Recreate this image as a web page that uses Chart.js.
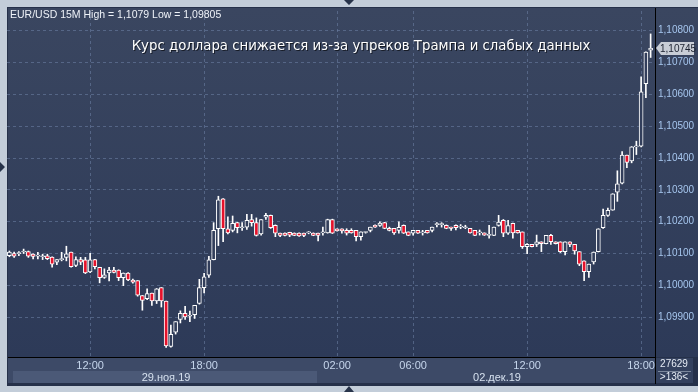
<!DOCTYPE html>
<html>
<head>
<meta charset="utf-8">
<script src="https://cdn.jsdelivr.net/npm/chart.js@4/dist/chart.umd.min.js"></script>
<style>
  html, body { margin: 0; padding: 0; background: #c3cdd9; }
  canvas { display: block; }
</style>
</head>
<body>
<canvas id="chart" width="698" height="392"></canvas>
<script>
// EUR/USD 15M candles
const open = [1.10093,1.10100,1.10100,1.10105,1.10106,1.10098,1.10092,1.10090,1.10093,1.10089,
  1.10073,1.10081,1.10088,1.10105,1.10063,1.10081,1.10080,1.10042,1.10081,1.10057,
  1.10025,1.10039,1.10048,1.10048,1.10024,1.10039,1.10017,1.10015,1.09968,1.09958,
  1.09976,1.09951,1.09993,1.09951,1.09808,1.09853,1.09893,1.09912,1.09903,1.09908,
  1.09943,1.09993,1.10032,1.10081,1.10178,1.10272,1.10178,1.10173,1.10197,1.10181,
  1.10183,1.10207,1.10197,1.10162,1.10214,1.10220,1.10189,1.10164,1.10164,1.10167,
  1.10164,1.10164,1.10164,1.10165,1.10164,1.10164,1.10165,1.10165,1.10207,1.10178,
  1.10178,1.10173,1.10173,1.10173,1.10153,1.10166,1.10173,1.10189,1.10188,1.10197,
  1.10179,1.10179,1.10173,1.10189,1.10168,1.10164,1.10173,1.10165,1.10173,1.10173,
  1.10191,1.10191,1.10189,1.10183,1.10189,1.10183,1.10181,1.10179,1.10173,1.10165,
  1.10165,1.10157,1.10157,1.10188,1.10204,1.10164,1.10195,1.10173,1.10168,1.10122,
  1.10129,1.10129,1.10137,1.10131,1.10157,1.10137,1.10137,1.10106,1.10137,1.10129,
  1.10106,1.10077,1.10043,1.10074,1.10106,1.10181,1.10220,1.10236,1.10293,1.10321,
  1.10409,1.10391,1.10435,1.10437,1.10634,1.10739];
const high = [1.10108,1.10105,1.10106,1.10114,1.10108,1.10099,1.10104,1.10098,1.10098,1.10090,
  1.10081,1.10104,1.10123,1.10105,1.10090,1.10088,1.10088,1.10101,1.10082,1.10057,
  1.10052,1.10057,1.10057,1.10049,1.10039,1.10040,1.10020,1.10015,1.09968,1.09989,
  1.09976,1.09990,1.09993,1.09951,1.09875,1.09886,1.09920,1.09934,1.09919,1.09937,
  1.10019,1.10038,1.10091,1.10197,1.10280,1.10273,1.10215,1.10218,1.10198,1.10197,
  1.10223,1.10223,1.10212,1.10207,1.10226,1.10221,1.10190,1.10164,1.10165,1.10167,
  1.10165,1.10165,1.10164,1.10169,1.10165,1.10164,1.10183,1.10208,1.10208,1.10178,
  1.10178,1.10178,1.10178,1.10173,1.10168,1.10168,1.10183,1.10190,1.10200,1.10198,
  1.10183,1.10179,1.10200,1.10190,1.10168,1.10173,1.10173,1.10173,1.10173,1.10183,
  1.10197,1.10197,1.10190,1.10183,1.10190,1.10191,1.10189,1.10179,1.10173,1.10174,
  1.10165,1.10189,1.10183,1.10220,1.10207,1.10204,1.10196,1.10173,1.10168,1.10131,
  1.10129,1.10158,1.10137,1.10157,1.10160,1.10137,1.10137,1.10137,1.10137,1.10129,
  1.10106,1.10077,1.10067,1.10105,1.10178,1.10240,1.10243,1.10288,1.10360,1.10420,
  1.10409,1.10436,1.10453,1.10655,1.10734,1.10790];
const low = [1.10090,1.10088,1.10093,1.10100,1.10088,1.10083,1.10083,1.10081,1.10081,1.10057,
  1.10065,1.10077,1.10077,1.10057,1.10059,1.10065,1.10037,1.10040,1.10052,1.10008,
  1.10022,1.10014,1.10039,1.10015,1.09999,1.10015,1.10007,1.09966,1.09922,1.09955,
  1.09937,1.09943,1.09932,1.09805,1.09806,1.09847,1.09882,1.09893,1.09886,1.09896,
  1.09941,1.09976,1.10025,1.10080,1.10125,1.10137,1.10162,1.10168,1.10165,1.10173,
  1.10176,1.10186,1.10155,1.10158,1.10207,1.10179,1.10153,1.10153,1.10155,1.10153,
  1.10156,1.10154,1.10153,1.10162,1.10156,1.10140,1.10158,1.10164,1.10163,1.10170,
  1.10164,1.10158,1.10164,1.10140,1.10142,1.10164,1.10168,1.10182,1.10185,1.10178,
  1.10171,1.10160,1.10164,1.10163,1.10156,1.10158,1.10163,1.10158,1.10164,1.10168,
  1.10184,1.10183,1.10178,1.10173,1.10174,1.10178,1.10178,1.10164,1.10156,1.10158,
  1.10157,1.10148,1.10156,1.10186,1.10153,1.10160,1.10148,1.10164,1.10116,1.10100,
  1.10121,1.10122,1.10106,1.10130,1.10129,1.10130,1.10103,1.10096,1.10122,1.10098,
  1.10062,1.10015,1.10025,1.10067,1.10105,1.10179,1.10217,1.10236,1.10264,1.10319,
  1.10370,1.10385,1.10411,1.10435,1.10590,1.10716];
const close = [1.10105,1.10092,1.10101,1.10106,1.10092,1.10091,1.10093,1.10091,1.10084,1.10067,
  1.10081,1.10082,1.10099,1.10059,1.10081,1.10073,1.10039,1.10080,1.10059,1.10024,
  1.10033,1.10048,1.10041,1.10024,1.10039,1.10017,1.10010,1.09969,1.09953,1.09974,
  1.09951,1.09989,1.09951,1.09810,1.09846,1.09886,1.09912,1.09901,1.09904,1.09937,
  1.09993,1.10027,1.10080,1.10173,1.10269,1.10178,1.10165,1.10195,1.10181,1.10182,
  1.10204,1.10197,1.10157,1.10207,1.10220,1.10181,1.10164,1.10157,1.10157,1.10158,
  1.10157,1.10155,1.10157,1.10166,1.10157,1.10157,1.10166,1.10207,1.10164,1.10171,
  1.10171,1.10164,1.10165,1.10153,1.10168,1.10167,1.10183,1.10183,1.10196,1.10179,
  1.10173,1.10165,1.10182,1.10164,1.10157,1.10173,1.10164,1.10166,1.10165,1.10183,
  1.10192,1.10192,1.10179,1.10179,1.10181,1.10184,1.10182,1.10165,1.10157,1.10166,
  1.10158,1.10158,1.10183,1.10199,1.10164,1.10188,1.10165,1.10165,1.10122,1.10129,
  1.10122,1.10137,1.10131,1.10157,1.10137,1.10131,1.10106,1.10137,1.10129,1.10108,
  1.10067,1.10043,1.10067,1.10105,1.10178,1.10220,1.10236,1.10288,1.10319,1.10409,
  1.10386,1.10435,1.10436,1.10608,1.10733,1.10745];

const priceTicks = [1.099, 1.100, 1.101, 1.102, 1.103, 1.104, 1.105, 1.106, 1.107, 1.108];
const timeTicks = [17, 41, 69, 85, 109, 133];
const dayLabels = ["29.ноя.19", "02.дек.19"];

// candle times: Friday from 07:45, Monday from 00:00 (weekend gap)
const sessions = [[7 * 60 + 45, 61], [0, 75]];
const times = [];
sessions.forEach(([start, n]) => {
  for (let k = 0; k < n; k++) {
    const m = start + k * 15;
    times.push(String(Math.floor(m / 60)).padStart(2, "0") + ":" + String(m % 60).padStart(2, "0"));
  }
});

const fmt = v => v.toFixed(5).replace(".", ",");
const FONT = "'Liberation Sans', Arial, sans-serif";

const frame = {
  id: "frame",
  beforeDraw(chart) {
    const ctx = chart.ctx;
    ctx.save();
    ctx.fillStyle = "#c3cdd9";
    ctx.fillRect(0, 0, 698, 392);
    ctx.fillStyle = "#26314a";
    ctx.fillRect(7, 7, 691, 379);
    const g = ctx.createLinearGradient(0, 8, 0, 357);
    g.addColorStop(0, "#3a4660");
    g.addColorStop(1, "#2d3a58");
    ctx.fillStyle = g;
    ctx.fillRect(8, 8, 690, 349);
    ctx.fillStyle = "#3d4a67";
    ctx.fillRect(8, 358, 647, 25);
    ctx.fillStyle = "#4b5977";
    ctx.fillRect(13, 371, 304, 12);
    ctx.restore();
  },
  afterDraw(chart) {
    const ctx = chart.ctx;
    const ys = chart.scales.y;
    ctx.save();
    // bottom-right counter box
    ctx.fillStyle = "#34415e";
    ctx.fillRect(656, 358, 37, 25);
    ctx.strokeStyle = "#7b879c";
    ctx.lineWidth = 1;
    ctx.beginPath();
    ctx.moveTo(658, 371.5); ctx.lineTo(691, 371.5);
    ctx.stroke();
    ctx.fillStyle = "#e6ecf5";
    ctx.font = "10px " + FONT;
    ctx.textAlign = "center";
    ctx.textBaseline = "middle";
    ctx.fillText("27629", 674, 364.5);
    ctx.fillText(">136<", 674, 377.5);
    // frame lines
    ctx.strokeStyle = "#000";
    ctx.beginPath();
    ctx.moveTo(655.5, 8); ctx.lineTo(655.5, 384);
    ctx.moveTo(8, 357.5); ctx.lineTo(655, 357.5);
    ctx.stroke();
    // day labels
    ctx.font = "11px " + FONT;
    ctx.fillStyle = "#d5e0ee";
    ctx.fillText(dayLabels[0], 166, 377.5);
    ctx.fillText(dayLabels[1], 497, 377.5);
    // header
    ctx.textAlign = "left";
    ctx.fillStyle = "#eef2f8";
    ctx.font = "10.5px " + FONT;
    ctx.fillText("EUR/USD 15M High = 1,1079 Low = 1,09805", 10, 15);
    // title
    ctx.textAlign = "center";
    ctx.font = "13.3px 'DejaVu Sans', sans-serif";
    ctx.fillStyle = "rgba(0,0,0,0.6)";
    ctx.fillText("Курс доллара снижается из-за упреков Трампа и слабых данных", 362, 48);
    ctx.fillStyle = "#ffffff";
    ctx.fillText("Курс доллара снижается из-за упреков Трампа и слабых данных", 361, 47);
    // last price tag
    const py = Math.round(ys.getPixelForValue(close[close.length - 1]));
    ctx.fillStyle = "#c9ced6";
    ctx.beginPath();
    ctx.moveTo(656, py); ctx.lineTo(661, py - 6); ctx.lineTo(694, py - 6);
    ctx.lineTo(694, py + 7); ctx.lineTo(661, py + 7); ctx.closePath();
    ctx.fill();
    ctx.fillStyle = "#1c2230";
    ctx.textAlign = "left";
    ctx.font = "10px " + FONT;
    ctx.fillText(fmt(close[close.length - 1]), 660, py + 1);
    // scroll arrows
    ctx.fillStyle = "#27334a";
    ctx.beginPath();
    ctx.moveTo(344, 0); ctx.lineTo(354, 0); ctx.lineTo(349, 5); ctx.closePath();
    ctx.moveTo(344, 392); ctx.lineTo(354, 392); ctx.lineTo(349, 386); ctx.closePath();
    ctx.moveTo(0, 162); ctx.lineTo(0, 172); ctx.lineTo(5, 167); ctx.closePath();
    ctx.fill();
    ctx.restore();
  }
};

new Chart(document.getElementById("chart"), {
  type: "bar",
  data: {
    labels: times,
    datasets: [
      {
        label: "body",
        data: open.map((o, i) => [o, close[i]]),
        backgroundColor: open.map((o, i) => (close[i] < o ? "#e5122b" : "#323e5b")),
        borderColor: "#ffffff",
        borderWidth: 1,
        borderSkipped: false,
        barThickness: 4,
        minBarLength: 1,
        grouped: false,
      },
      {
        label: "wick",
        data: low.map((l, i) => [l, high[i]]),
        backgroundColor: "#ffffff",
        barThickness: 1,
        grouped: false,
      },
    ],
  },
  options: {
    responsive: false,
    animation: false,
    devicePixelRatio: 1,
    layout: { padding: { left: 7, top: 8, right: 4, bottom: 9 } },
    plugins: { legend: { display: false }, tooltip: { enabled: false } },
    scales: {
      x: {
        type: "category",
        offset: true,
        afterBuildTicks: s => { s.ticks = timeTicks.map(v => ({ value: v })); },
        afterFit: s => { s.height = 26; },
        ticks: {
          autoSkip: false,
          maxRotation: 0,
          padding: 2,
          color: "#c6d6ec",
          font: { family: FONT, size: 11 },
          callback: v => times[v],
        },
        grid: { offset: false, drawTicks: false, color: "rgba(112,132,168,0.55)" },
        border: { display: false, dash: [3, 3] },
      },
      y: {
        position: "right",
        min: 1.09775,
        max: 1.10862,
        afterBuildTicks: s => { s.ticks = priceTicks.map(v => ({ value: v })); },
        afterFit: s => { s.width = 41; },
        ticks: {
          padding: 5,
          color: "#a6c6ee",
          font: { family: FONT, size: 10 },
          callback: v => fmt(v),
        },
        grid: { drawTicks: false, color: "rgba(112,132,168,0.55)" },
        border: { display: false, dash: [3, 3] },
      },
    },
  },
  plugins: [frame],
});
</script>
</body>
</html>
